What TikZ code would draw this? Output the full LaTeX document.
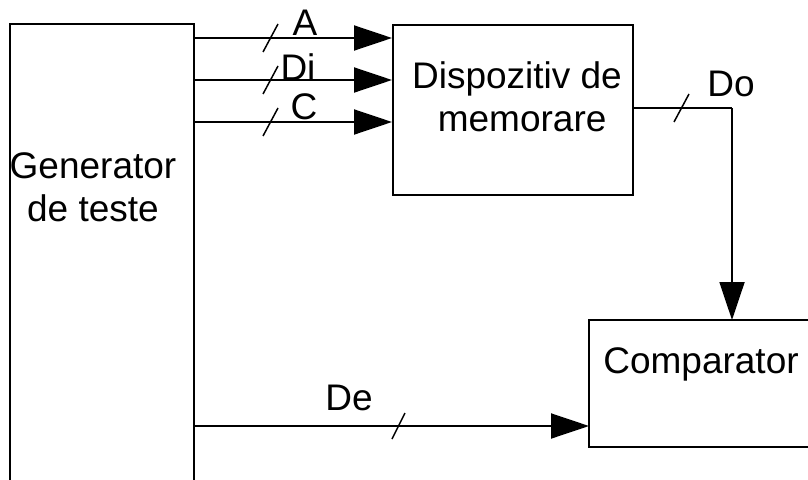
\documentclass[tikz,border=0pt]{standalone}
\usepackage{fontspec}
\setmainfont{Liberation Sans}
\usetikzlibrary{arrows.meta,calc}
\begin{document}
\begin{tikzpicture}[x=1pt,y=-1pt,
  box/.style={draw=none,inner sep=0,anchor=north west},
  edge/.style={line width=1.9pt},
  sig/.style={line width=1.9pt,-{Triangle[length=38pt,width=25pt]}},
  tick/.style={line width=1.5pt},
  txt/.style={font=\fontsize{37}{43}\selectfont,inner sep=0,align=center}]
\useasboundingbox (0,0) rectangle (808,479);
\clip (0,0) rectangle (808,479);
% generator (open at bottom)
\node[box,minimum width=184pt,minimum height=470pt] (gen) at (10,24) {};
\draw[edge] (gen.south west) -- (gen.north west) -- (gen.north east) -- (gen.south east);
\node[txt] (gentxt) at (93,187) {Generator\\de teste};
% memory device
\node[box,draw,edge,minimum width=240pt,minimum height=170pt] (mem) at (392,24) {};
\node[txt] (memtxt) at (517,97) {Dispozitiv de\\\ memorare};
% comparator (cut off at the right border)
\node[box,minimum width=260pt,minimum height=127pt] (comp) at (589,320) {};
\draw[edge] (comp.north east) -- (comp.north west) -- (comp.south west) -- (comp.south east);
\node[txt] (comptxt) at (701,364) {Comparator};
% coordinates on generator
\coordinate (gA) at (194,38);
\coordinate (gD) at (194,80);
\coordinate (gC) at (194,122);
\coordinate (gE) at (194,426);
\coordinate (mO) at (632,108);
\coordinate (bend) at (732,108);
% signals
\draw[sig] (gA) -- (gA -| mem.west);
\draw[sig] (gD) -- (gD -| mem.west);
\draw[sig] (gC) -- (gC -| mem.west);
\draw[sig] (gE) -- (gE -| comp.west);
\draw[edge] (mO) -- (bend);
\draw[sig] (bend) -- (bend |- comp.north);
% bus ticks
\draw[tick] (263,52) -- (278,24);
\draw[tick] (263,94) -- (278,66);
\draw[tick] (263,136) -- (278,108);
\draw[tick] (392,439) -- (405,413);
\draw[tick] (674,122) -- (689,94);
% labels
\node[txt] (lA) at (305,23) {A};
\node[txt] (lDi) at (298,67) {Di};
\node[txt] (lC) at (304,107) {C};
\node[txt] (lDo) at (731,84) {Do};
\node[txt] (lDe) at (349,398) {De};
\end{tikzpicture}
\end{document}
